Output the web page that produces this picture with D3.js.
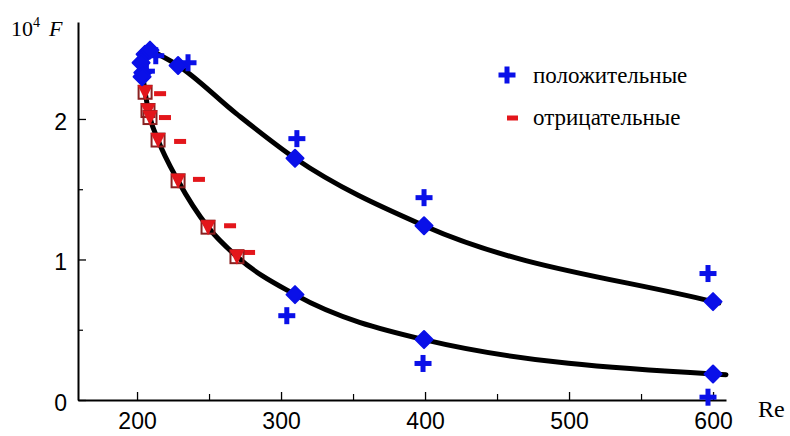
<!DOCTYPE html>
<html>
<head>
<meta charset="utf-8">
<script src="https://cdn.jsdelivr.net/npm/d3@7"></script>
<style>
  body { margin: 0; background: #fff; }
  svg { display: block; }
</style>
</head>
<body>
<div id="chart"></div>
<script>
// Re and 10^4 F

// blue diamonds (computed points)
let diamondRe = [205.6, 209, 202.8, 204, 203.5, 228.5, 309.7, 399.3, 600, 309.7, 399.3, 600];
let diamondF  = [2.46, 2.49, 2.40, 2.33, 2.30, 2.38, 1.72, 1.24, 0.70, 0.75, 0.43, 0.185];

// red triangles (computed points, lower branch)
let triRe = [205.6, 207.6, 209, 214.6, 228.5, 249.3, 269.4];
let triF  = [2.19, 2.06, 2.01, 1.85, 1.56, 1.23, 1.02];

// blue plus: "положительные"
let plusRe = [213, 206.5, 235.4, 311, 399.3, 596.5, 304, 398.6, 596.5];
let plusF  = [2.45, 2.34, 2.40, 1.86, 1.44, 0.90, 0.60, 0.26, 0.02];

// red dash: "отрицательные"
let dashRe = [216, 219.4, 229.9, 243, 264.6, 277.8];
let dashF  = [2.18, 2.01, 1.84, 1.57, 1.24, 1.05];

// fitted curves (nodes)
let upperRe = [209, 228.5, 268.7, 309.7, 399.3, 600, 604];
let upperF  = [2.49, 2.38, 2.04, 1.72, 1.24, 0.70, 0.69];
let lowerRe = [204, 205.6, 209, 214.6, 228.5, 249.3, 269.4, 309.7, 399.3, 600, 609];
let lowerF  = [2.31, 2.19, 2.01, 1.85, 1.56, 1.23, 1.02, 0.75, 0.43, 0.185, 0.18];

let xMajor = [200, 300, 400, 500, 600];
let xMinor = [250, 350, 450, 550];
let yMajor = [0, 1, 2];
let yMinor = [0.5, 1.5];

let legendLabels = ["положительные", "отрицательные"];

let blue = "#0a10e8";
let red = "#e3161b";
let darkRed = "#8a2020";

let width = 790, height = 436;
let svg = d3.select("#chart").append("svg")
    .attr("width", width)
    .attr("height", height);

let x = d3.scaleLinear().domain([159, 609]).range([78, 726]);
let y = d3.scaleLinear().domain([0, 2.69]).range([400, 22]);

let zip = (a, b) => a.map((v, i) => [v, b[i]]);

// axes
let xAxis = d3.axisBottom(x).tickValues(xMajor).tickSize(-8).tickSizeOuter(0).tickPadding(13);
let gx = svg.append("g").attr("transform", "translate(0,400)").call(xAxis);
let yAxis = d3.axisLeft(y).tickValues(yMajor).tickFormat(d3.format("d"))
    .tickSize(-8).tickSizeOuter(0).tickPadding(11);
let gy = svg.append("g").attr("transform", "translate(78,0)").call(yAxis);

[gx, gy].forEach(g => {
    g.select(".domain").attr("stroke", "#000").attr("stroke-width", 2);
    g.selectAll(".tick line").attr("stroke", "#000").attr("stroke-width", 1.3);
    g.selectAll(".tick text")
        .attr("font-family", "Liberation Sans, Arial, sans-serif")
        .attr("font-size", 23)
        .attr("fill", "#000");
});
gy.selectAll(".tick text").attr("dy", "0.45em");

svg.append("g").attr("transform", "translate(0,400)")
    .call(d3.axisBottom(x).tickValues(xMinor).tickSize(-6).tickSizeOuter(0).tickFormat(""))
    .call(g => g.select(".domain").remove())
    .selectAll("line").attr("stroke", "#000").attr("stroke-width", 1.2);
svg.append("g").attr("transform", "translate(78,0)")
    .call(d3.axisLeft(y).tickValues(yMinor).tickSize(-5).tickSizeOuter(0).tickFormat(""))
    .call(g => g.select(".domain").remove())
    .selectAll("line").attr("stroke", "#000").attr("stroke-width", 1.2);

// axis titles
let yt = svg.append("text")
    .attr("x", 11).attr("y", 36)
    .attr("font-family", "Liberation Serif, Times New Roman, serif")
    .attr("font-size", 22);
yt.append("tspan").text("10");
yt.append("tspan").attr("font-size", 14).attr("dy", -9).text("4");
yt.append("tspan").attr("dy", 9).attr("dx", 9).attr("font-style", "italic").text("F");

svg.append("text")
    .attr("x", 758).attr("y", 417)
    .attr("font-family", "Liberation Serif, Times New Roman, serif")
    .attr("font-size", 24)
    .text("Re");

// curves
let line = d3.line()
    .x(d => x(d[0]))
    .y(d => y(d[1]))
    .curve(d3.curveMonotoneX);

svg.selectAll(".curve")
    .data([zip(upperRe, upperF), zip(lowerRe, lowerF)])
    .enter()
    .append("path")
    .attr("class", "curve")
    .attr("d", line)
    .attr("fill", "none")
    .attr("stroke", "#000")
    .attr("stroke-width", 5)
    .attr("stroke-linecap", "round");

// plus markers
function plus(g, s, w) {
    g.append("rect").attr("x", -s / 2).attr("y", -w / 2).attr("width", s).attr("height", w);
    g.append("rect").attr("x", -w / 2).attr("y", -s / 2).attr("width", w).attr("height", s);
}

svg.selectAll(".plus")
    .data(zip(plusRe, plusF))
    .enter()
    .append("g")
    .attr("class", "plus")
    .attr("fill", blue)
    .attr("transform", d => `translate(${x(d[0])},${y(d[1])})`)
    .each(function () { plus(d3.select(this), 17, 5); });

// dash markers
svg.selectAll(".dash")
    .data(zip(dashRe, dashF))
    .enter()
    .append("rect")
    .attr("class", "dash")
    .attr("x", d => x(d[0]) - 6)
    .attr("y", d => y(d[1]) - 2.5)
    .attr("width", 12)
    .attr("height", 5)
    .attr("fill", red);

// triangle markers over a dark square outline
let tri = svg.selectAll(".tri")
    .data(zip(triRe, triF))
    .enter()
    .append("g")
    .attr("class", "tri")
    .attr("transform", d => `translate(${x(d[0])},${y(d[1])})`);
tri.append("rect")
    .attr("x", -6.5).attr("y", -6.5).attr("width", 13).attr("height", 13)
    .attr("fill", "none")
    .attr("stroke", darkRed)
    .attr("stroke-width", 2);
tri.append("path")
    .attr("d", "M-7.5,-7L7.5,-7L0,8Z")
    .attr("fill", red);

// diamond markers
svg.selectAll(".diamond")
    .data(zip(diamondRe, diamondF))
    .enter()
    .append("path")
    .attr("class", "diamond")
    .attr("transform", d => `translate(${x(d[0])},${y(d[1])})`)
    .attr("d", "M0,-8.5L8.5,0L0,8.5L-8.5,0Z")
    .attr("fill", blue)
    .attr("stroke", blue)
    .attr("stroke-width", 2)
    .attr("stroke-linejoin", "round");

// legend
let legend = svg.append("g");
let lp = legend.append("g").attr("fill", blue).attr("transform", "translate(507,75)");
plus(lp, 17, 5);
legend.append("rect")
    .attr("x", 507).attr("y", 115.5).attr("width", 11).attr("height", 5)
    .attr("fill", red);
legend.selectAll("text")
    .data(legendLabels)
    .enter()
    .append("text")
    .attr("x", 533)
    .attr("y", (d, i) => 83 + i * 42)
    .attr("font-family", "Liberation Serif, Times New Roman, serif")
    .attr("font-size", 23)
    .text(d => d);
</script>
</body>
</html>
